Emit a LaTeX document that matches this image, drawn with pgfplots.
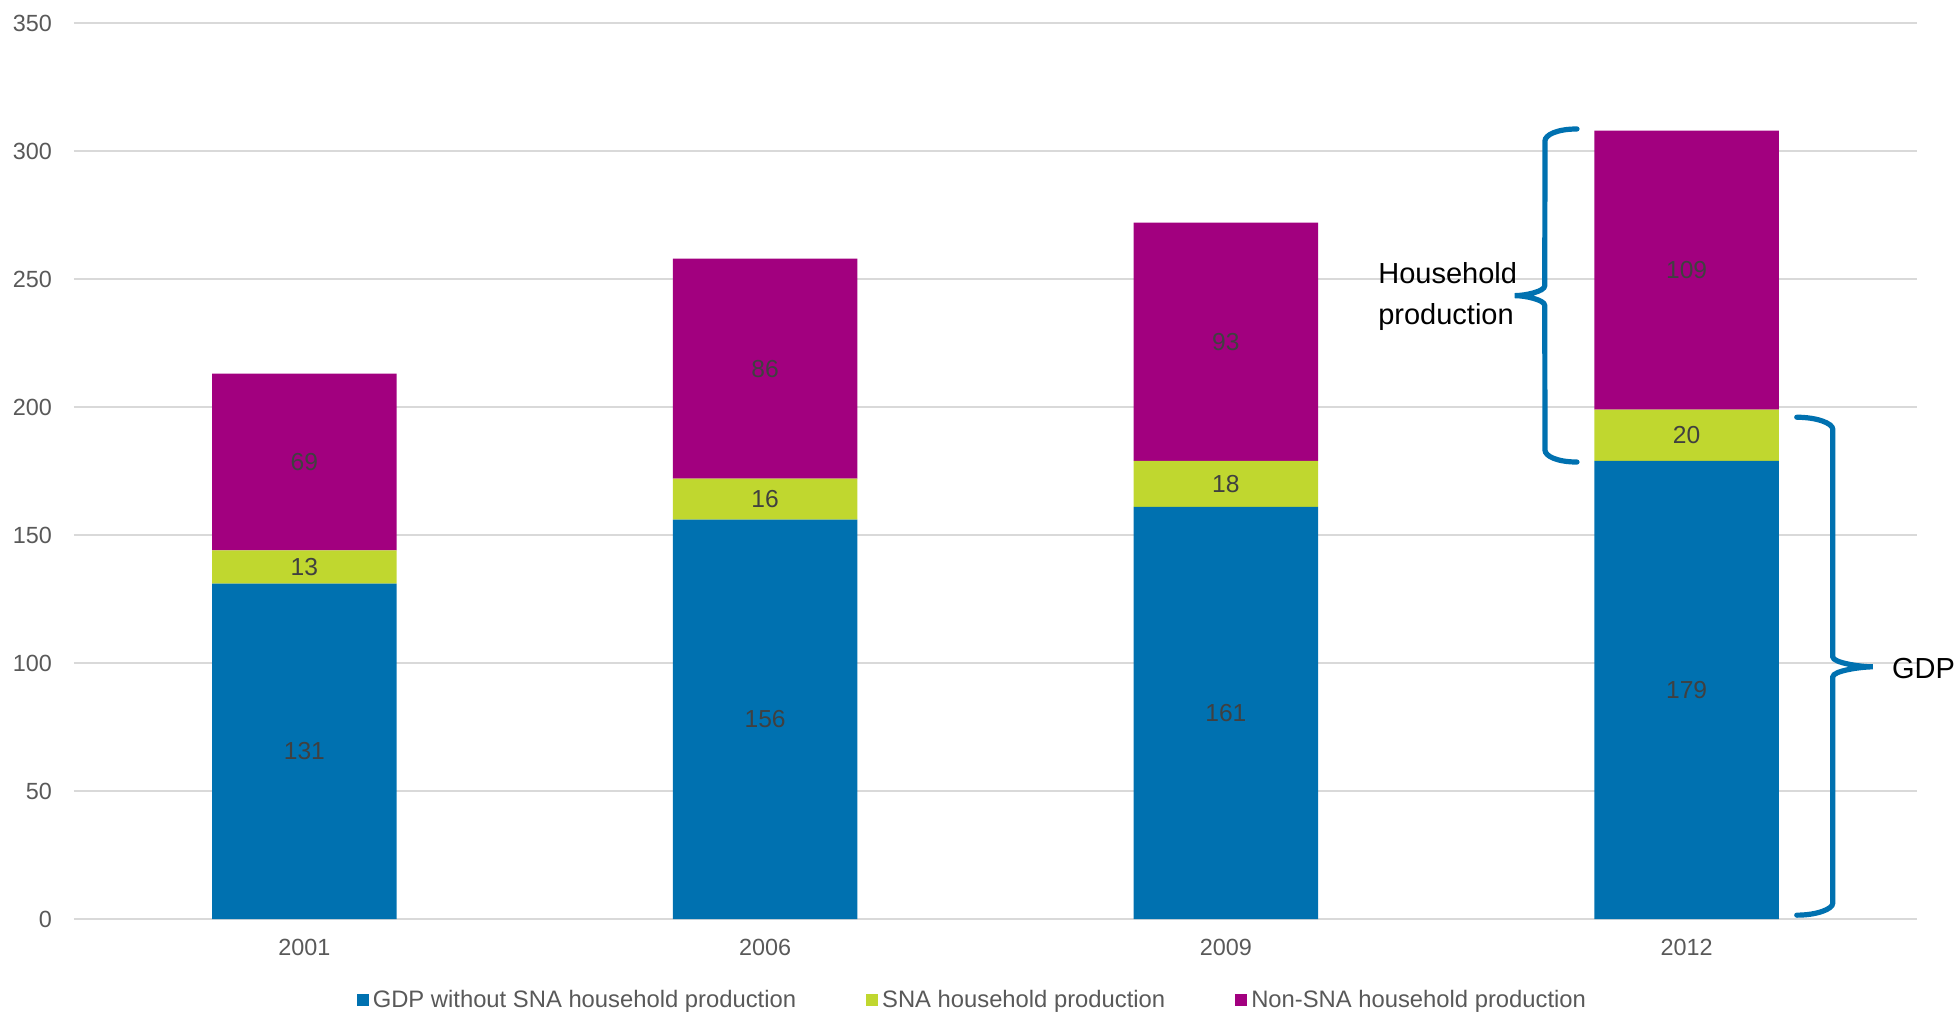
\documentclass[border=0pt]{standalone}
\usepackage{pgfplots}
\usepackage{pgfplotstable}
\pgfplotsset{compat=1.18}
\usepackage{fontspec}
\setmainfont{Liberation Sans}

\definecolor{gdpblue}{HTML}{0071B0}
\definecolor{snagreen}{HTML}{C0D72F}
\definecolor{nonsna}{HTML}{A2007F}
\definecolor{gridgray}{HTML}{D9D9D9}
\definecolor{ticktext}{HTML}{595959}
\definecolor{valtext}{HTML}{404040}

\pgfplotstableread{
x gdp sna nonsna
0 131 13 69
1 156 16 86
2 161 18 93
3 179 20 109
}\data

\pgfplotsset{
  /pgf/number format/assume math mode=true,
  common/.style={
    width=921.5pt, height=448pt, scale only axis,
    xmin=-0.5, xmax=3.5, ymin=0, ymax=350,
  },
}

\begin{document}
\begin{tikzpicture}
\begin{axis}[
  common,
  ybar stacked,
  bar width=0.4,
  xtick={0,1,2,3},
  xticklabels={2001,2006,2009,2012},
  ytick={0,50,...,350},
  ymajorgrids,
  grid style={gridgray, line width=1pt},
  axis line style={draw=none},
  major tick length=0pt,
  tick label style={font=\fontsize{11.7}{13}\selectfont, text=ticktext},
  yticklabel style={xshift=-7.5pt},
  xticklabel style={yshift=-6.5pt},
  clip=false,
  legend columns=3,
  legend style={at={(0.488,-0.0904)}, anchor=center, draw=none,
    font=\fontsize{11.9}{13}\selectfont, text=ticktext,
    /tikz/every even column/.append style={column sep=33pt}},
  legend image code/.code={\fill[#1] (0pt,-3pt) rectangle (6pt,3pt);},
]
\addplot[fill=gdpblue, draw=none] table[x=x, y=gdp] {\data};
\addplot[fill=snagreen, draw=none] table[x=x, y=sna] {\data};
\addplot[fill=nonsna, draw=none] table[x=x, y=nonsna] {\data};
\legend{GDP without SNA household production, SNA household production, Non-SNA household production}

% anchor points of the two braces
\coordinate (hT) at (axis cs:2.762,308.6);
\coordinate (hB) at (axis cs:2.762,178.5);
\coordinate (hM) at (axis cs:2.627,243.5);
\coordinate (gT) at (axis cs:3.239,196);
\coordinate (gB) at (axis cs:3.239,1.5);
\coordinate (gM) at (axis cs:3.404,98.5);
\node[anchor=west, align=left, inner sep=0pt, font=\fontsize{14.5}{20.5}\selectfont]
  at (axis cs:2.33,243) {Household\\production};
\node[anchor=west, inner sep=0pt, font=\fontsize{14.5}{17}\selectfont]
  at (axis cs:3.445,98) {GDP};
\end{axis}

% household production brace "{"
\draw[gdpblue, line width=2.6pt, line cap=round]
  (hT) .. controls ([xshift=-10pt]hT) and ([xshift=-16pt,yshift=-3pt]hT) .. ([xshift=-16pt,yshift=-6pt]hT)
  -- ([xshift=15pt,yshift=5pt]hM) .. controls ([xshift=15pt,yshift=2pt]hM) and ([xshift=5pt]hM) .. (hM)
  .. controls ([xshift=5pt]hM) and ([xshift=15pt,yshift=-2pt]hM) .. ([xshift=15pt,yshift=-5pt]hM)
  -- ([xshift=-16pt,yshift=6pt]hB) .. controls ([xshift=-16pt,yshift=3pt]hB) and ([xshift=-10pt]hB) .. (hB);
% GDP brace "}"
\draw[gdpblue, line width=2.6pt, line cap=round]
  (gT) .. controls ([xshift=10pt]gT) and ([xshift=18pt,yshift=-3pt]gT) .. ([xshift=18pt,yshift=-6pt]gT)
  -- ([xshift=-20pt,yshift=5pt]gM) .. controls ([xshift=-20pt,yshift=2pt]gM) and ([xshift=-6pt]gM) .. (gM)
  .. controls ([xshift=-6pt]gM) and ([xshift=-20pt,yshift=-2pt]gM) .. ([xshift=-20pt,yshift=-5pt]gM)
  -- ([xshift=18pt,yshift=6pt]gB) .. controls ([xshift=18pt,yshift=3pt]gB) and ([xshift=10pt]gB) .. (gB);

% value labels, centred in each segment
\begin{axis}[
  common, hide axis,
  every node near coord/.append style={anchor=center, text=valtext,
    font=\fontsize{12.3}{14}\selectfont},
]
\addplot[draw=none, mark=none, nodes near coords, point meta=explicit]
  table[x=x, y expr=\thisrow{gdp}/2, meta=gdp] {\data};
\addplot[draw=none, mark=none, nodes near coords, point meta=explicit]
  table[x=x, y expr=\thisrow{gdp}+\thisrow{sna}/2, meta=sna] {\data};
\addplot[draw=none, mark=none, nodes near coords, point meta=explicit]
  table[x=x, y expr=\thisrow{gdp}+\thisrow{sna}+\thisrow{nonsna}/2, meta=nonsna] {\data};
\end{axis}

\pgfresetboundingbox
\path[use as bounding box] (-37pt,-46.5pt) rectangle (942pt,459.5pt);
\end{tikzpicture}
\end{document}
